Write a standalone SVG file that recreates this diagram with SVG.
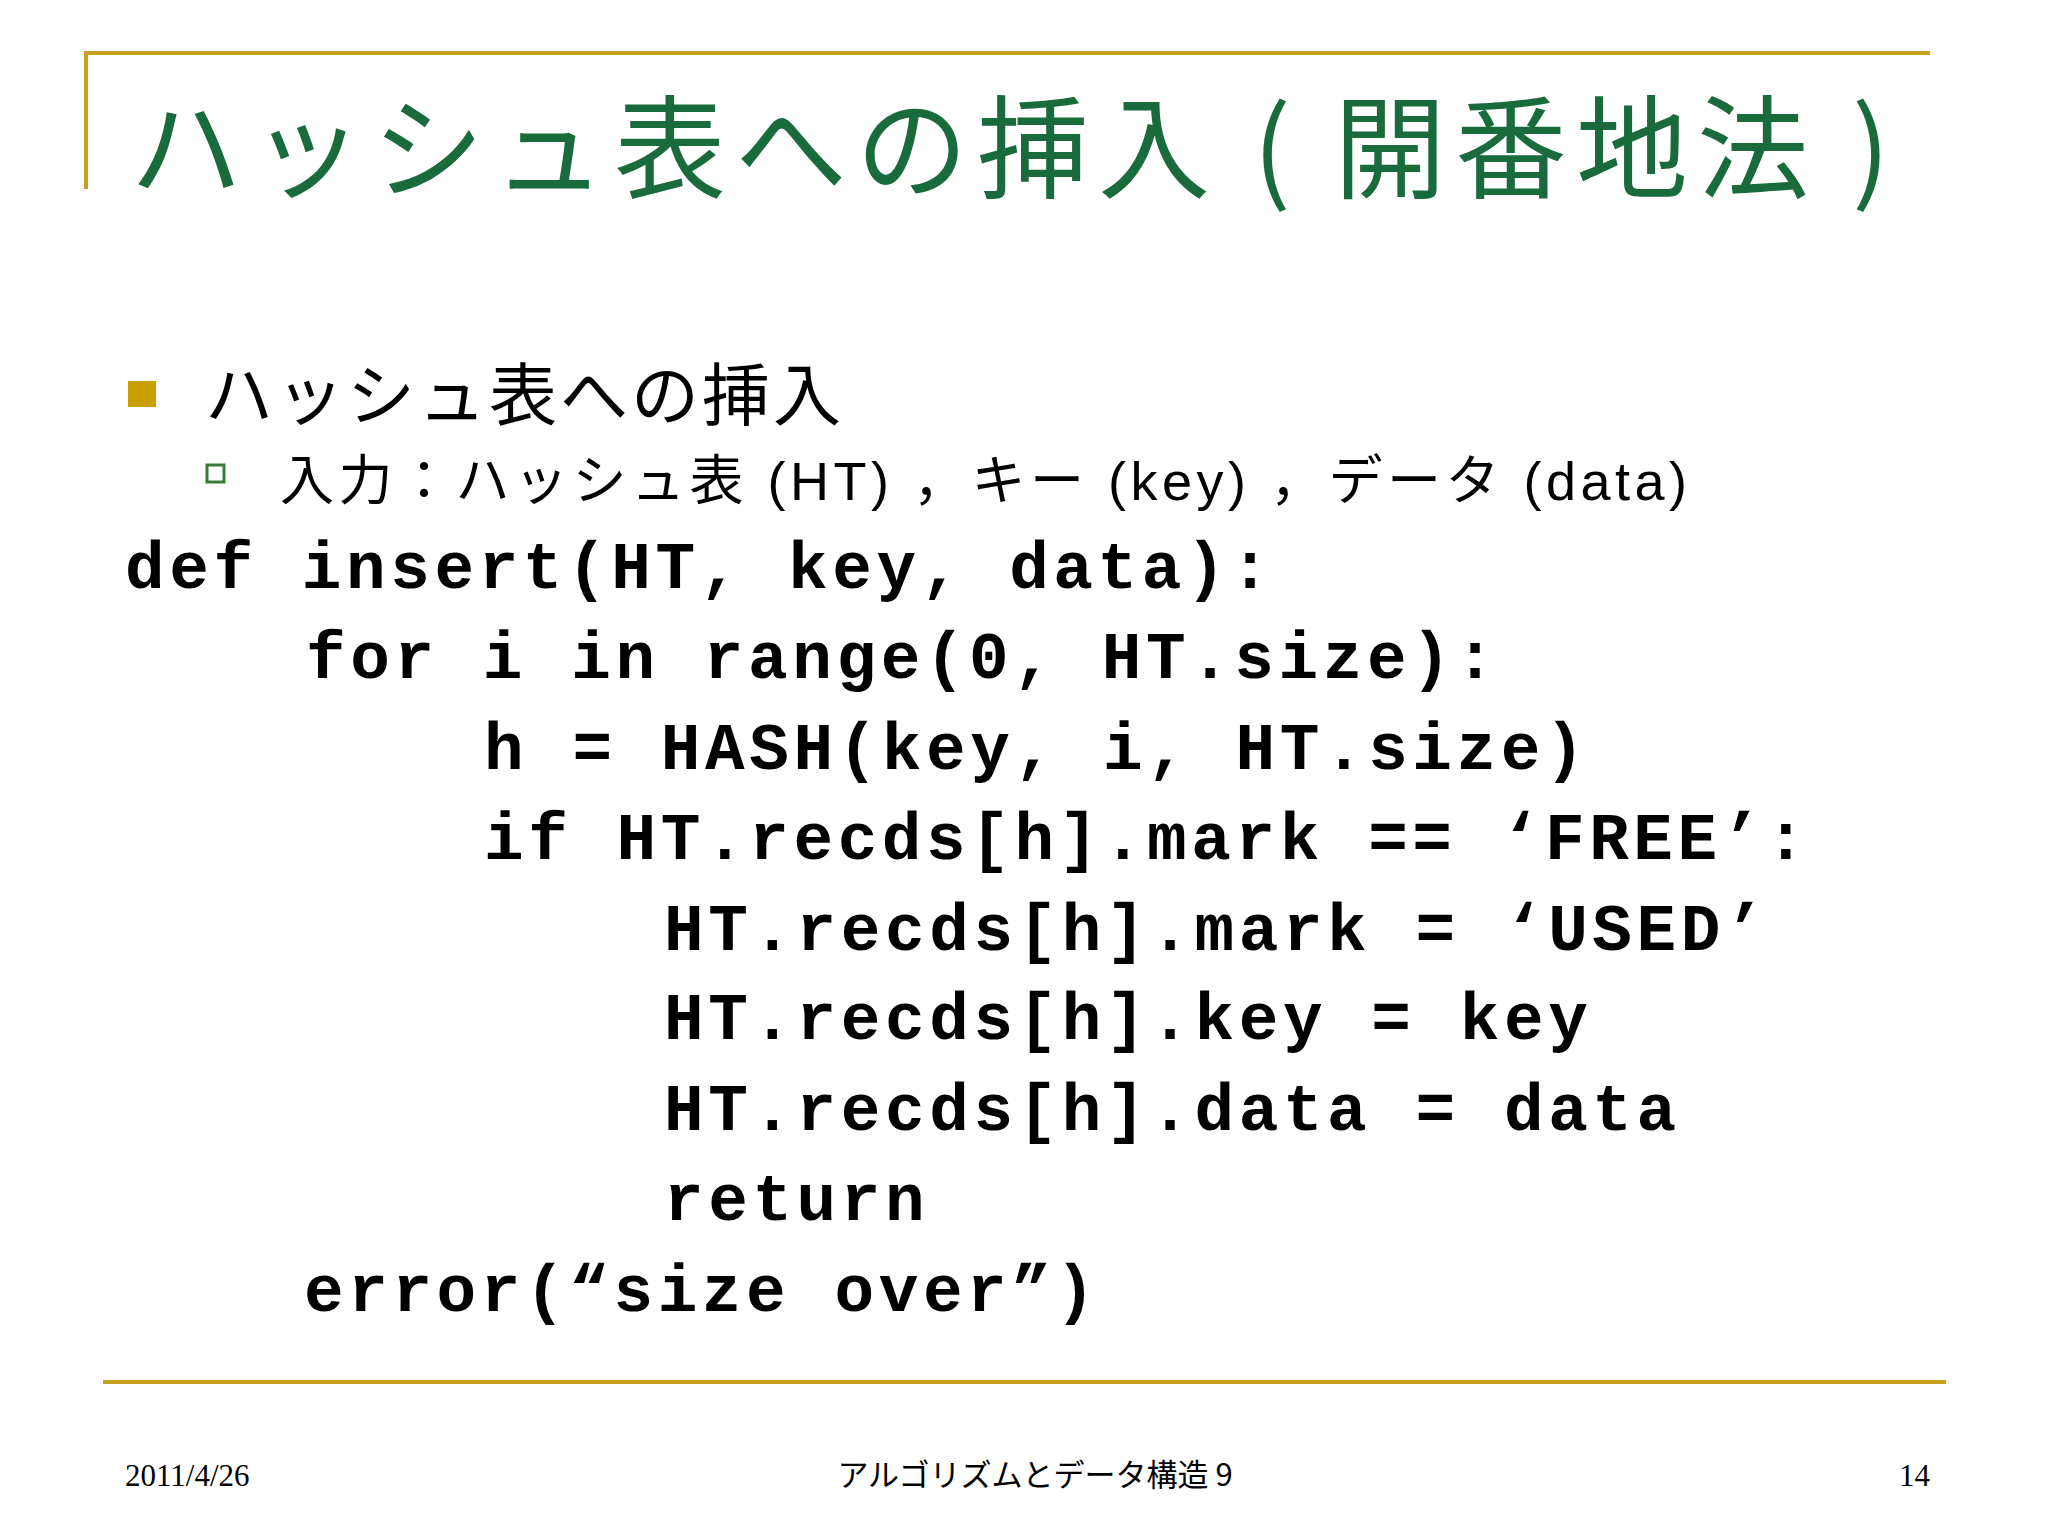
<svg xmlns="http://www.w3.org/2000/svg" width="2048" height="1536" viewBox="0 0 2048 1536">
<style>
.code{font-family:"Liberation Mono","Noto Sans CJK JP",monospace;font-weight:bold;font-size:66px;letter-spacing:4.6px;fill:#000}
.jp{font-family:"Noto Sans CJK JP","Liberation Sans",sans-serif;fill:#000}
.ft{font-family:"Liberation Serif","Noto Sans CJK JP",serif;font-size:31px;fill:#000}
</style>
<rect width="2048" height="1536" fill="#fff"/>
<g id="frame" stroke="#c8a020" stroke-width="4" fill="none">
<path d="M86 189V53H1930"/>
<path d="M103 1382H1946"/>
</g>
<g id="title"><text x="130" y="190" class="jp" font-size="112" letter-spacing="9" style="fill:#1a6b3c">ハッシュ表への挿入 ( 開番地法 )</text></g>
<g id="bullets">
<rect x="128" y="381" width="28" height="26" fill="#c8a000"/>
<text x="205" y="420" class="jp" font-size="68" letter-spacing="3">ハッシュ表への挿入</text>
<rect x="207" y="465" width="17" height="17" fill="none" stroke="#3a7a3a" stroke-width="3"/>
<text x="280" y="500" font-family="Liberation Sans,Noto Sans CJK JP,sans-serif" font-size="54" letter-spacing="4.5">入力：ハッシュ表 (HT) ，キー (key) ，データ (data)</text>
</g>
<g id="code">
<text x="125" y="588" class="code">def insert(HT, key, data):</text>
<text x="306" y="678" class="code">for i in range(0, HT.size):</text>
<text x="484" y="769" class="code">h = HASH(key, i, HT.size)</text>
<text x="484" y="859" class="code">if HT.recds[h].mark == ‘FREE’:</text>
<text x="664" y="950" class="code">HT.recds[h].mark = ‘USED’</text>
<text x="664" y="1039" class="code">HT.recds[h].key = key</text>
<text x="664" y="1130" class="code">HT.recds[h].data = data</text>
<text x="664" y="1220" class="code">return</text>
<text x="304" y="1311" class="code">error(“size over”)</text>
</g>
<g id="footer">
<text x="125" y="1486" class="ft">2011/4/26</text>
<text x="1035" y="1486" class="jp" font-size="31" text-anchor="middle">アルゴリズムとデータ構造 9</text>
<text x="1930" y="1486" class="ft" text-anchor="end">14</text>
</g>
</svg>
